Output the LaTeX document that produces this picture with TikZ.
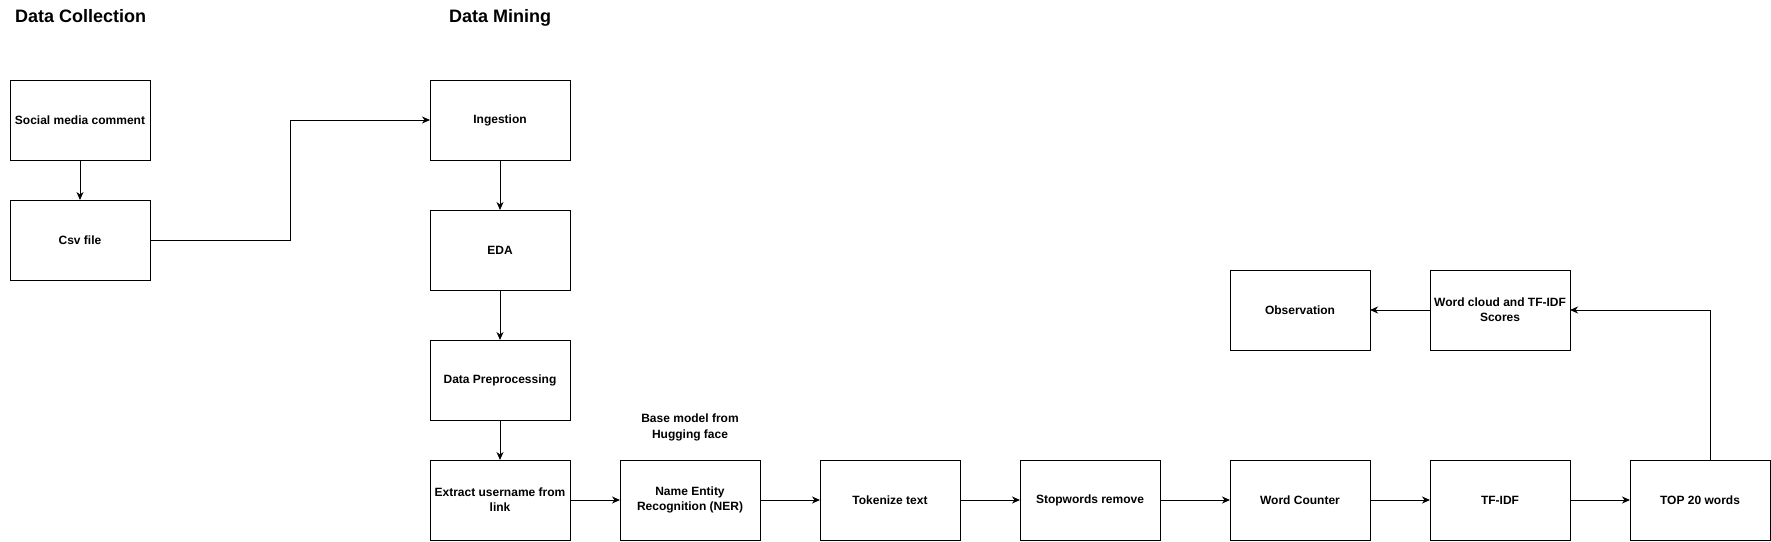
\documentclass[tikz,border=0pt]{standalone}
\usepackage{fontspec}
\setmainfont{Liberation Sans}
\usepackage{tikz}
\usetikzlibrary{positioning, arrows.meta}

\begin{document}
\begin{tikzpicture}
	[
	x=1pt, y=-1pt,
	box/.style={draw, line width=1pt, outer sep=0pt, minimum width=140pt, minimum height=80pt,
		inner sep=2pt, align=center, font=\bfseries\fontsize{12}{15}\selectfont},
	heading/.style={inner sep=0pt, font=\bfseries\fontsize{18}{22}\selectfont},
	note/.style={inner sep=0pt, align=center, font=\bfseries\fontsize{12}{16}\selectfont},
	arr/.style={-{Stealth[length=8pt,width=7pt,inset=2.5pt]}, line width=1pt},
	node distance=40pt and 60pt]
	\useasboundingbox (0,0) rectangle (1771,541);
	% headings
	\node[heading, anchor=base west] (hcollect) at (15,22.5) {Data Collection};
	\node[heading, anchor=base west] (hmining) at (449,22.5) {Data Mining};
	% data collection
	\node[box] (social) at (80,120) {Social media comment};
	\node[box, below=of social] (csv) {Csv file};
	% data mining
	\node[box] (ingest) at (500,120) {Ingestion};
	\node[box, below=50pt of ingest] (eda) {EDA};
	\node[box, below=50pt of eda] (prep) {Data Preprocessing};
	\node[box, below=of prep] (extract) {Extract username from\\link};
	\node[box, right=50pt of extract] (ner) {Name Entity\\Recognition (NER)};
	\node[note, above=19pt of ner] (base) {Base model from\\Hugging face};
	\node[box, right=of ner] (token) {Tokenize text};
	\node[box, right=of token] (stop) {Stopwords remove};
	\node[box, right=70pt of stop] (count) {Word Counter};
	\node[box, right=of count] (tfidf) {TF-IDF};
	\node[box, right=of tfidf] (top) {TOP 20 words};
	\node[box, above=110pt of tfidf] (cloud) {Word cloud and TF-IDF\\Scores};
	\node[box, above=110pt of count] (observe) {Observation};
	% connectors
	\draw[arr] (social) -- (csv);
	\draw[arr] (csv.east) -- ++(140,0) |- (ingest.west);
	\draw[arr] (ingest) -- (eda);
	\draw[arr] (eda) -- (prep);
	\draw[arr] (prep) -- (extract);
	\draw[arr] (extract) -- (ner);
	\draw[arr] (ner) -- (token);
	\draw[arr] (token) -- (stop);
	\draw[arr] (stop) -- (count);
	\draw[arr] (count) -- (tfidf);
	\draw[arr] (tfidf) -- (top);
	\draw[arr] ([xshift=10pt]top.north) |- (cloud.east);
	\draw[arr] (cloud) -- (observe);
\end{tikzpicture}
\end{document}
